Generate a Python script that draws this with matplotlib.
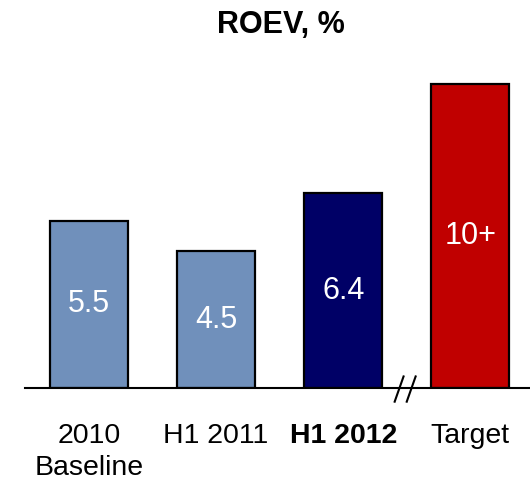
import matplotlib
matplotlib.use("Agg")
import matplotlib.pyplot as plt

plt.rcParams['font.family'] = ['Liberation Sans', 'DejaVu Sans']

categories = ["2010\nBaseline", "H1 2011", "H1 2012", "Target"]
values = [5.5, 4.5, 6.4, 10.0]
labels = ["5.5", "4.5", "6.4", "10+"]
colors = ["#7090BB", "#7090BB", "#000066", "#C00000"]
title = "ROEV, %"

fig = plt.figure(figsize=(5.30, 4.84), dpi=100)
ax = fig.add_axes([25/530, 96/484, 505/530, (388-53.6)/484])

x = list(range(len(categories)))
bars = ax.bar(x, values, width=0.614, color=colors, edgecolor="black", linewidth=1.6, zorder=3)
for b, lab in zip(bars, labels):
    ax.text(b.get_x() + b.get_width()/2, b.get_height()/2, lab, ha="center", va="center",
            color="white", fontsize=22, zorder=4)

ax.set_xlim(-0.504, 3.47)
ax.set_ylim(0, 11)
for s in ["top", "right", "left"]:
    ax.spines[s].set_visible(False)
ax.spines["bottom"].set_linewidth(1.5)
ax.spines["bottom"].set_zorder(5)
ax.set_yticks([])
ax.set_xticks(x)
ax.set_xticklabels(categories, fontsize=20.5, linespacing=1.3)
ax.tick_params(axis="x", length=0, pad=25)
for t in ax.get_xticklabels():
    if t.get_text() == "H1 2012":
        t.set_fontweight("bold")

# axis break marks
for cx in (2.44, 2.535):
    ax.plot([cx - 0.035, cx + 0.035], [-0.45, 0.38], color="black", lw=1.5,
            clip_on=False, zorder=6)

fig.text(281/530, 1 - 25/484, title, ha="center", va="center", fontsize=22, fontweight="bold")

fig.savefig("out.png", dpi=100)
